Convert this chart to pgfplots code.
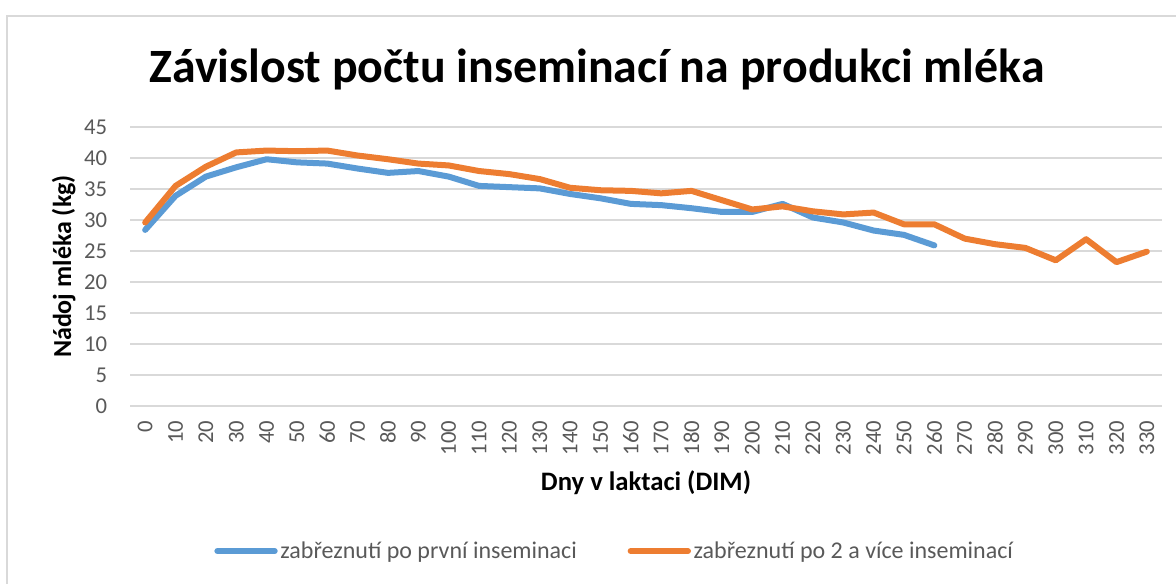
\documentclass[border=0pt]{standalone}
\usepackage{pgfplots}
\pgfplotsset{compat=1.18}
\usepackage{fontspec}
\setmainfont{Carlito}
\definecolor{xblue}{HTML}{5B9BD5}
\definecolor{xorange}{HTML}{ED7D31}
\definecolor{xgrid}{HTML}{D9D9D9}
\definecolor{xtext}{HTML}{595959}
\begin{document}
\begin{tikzpicture}[x=0.75pt,y=0.75pt]
\useasboundingbox (0,0) rectangle (1176,583);
\draw[xgrid, line width=1.5pt] (7,567) rectangle (1220,-30);
\node[anchor=base, font=\fontsize{35.9pt}{40pt}\selectfont\bfseries] at (597,{583-83}) {Závislost počtu inseminací na produkci mléka};
\node[anchor=base, font=\fontsize{20pt}{22pt}\selectfont\bfseries] at (646,{583-490}) {Dny v laktaci (DIM)};
\node[anchor=base, rotate=90, font=\fontsize{19.5pt}{22pt}\selectfont\bfseries] at (71,{583-266.5}) {Nádoj mléka (kg)};
\begin{axis}[
  at={(97.5pt,132.75pt)}, anchor=south west,
  scale only axis, width=774pt, height=209.25pt,
  xmin=-5, xmax=335, ymin=0, ymax=45,
  xtick={0,10,...,330}, ytick={0,5,...,45},
  axis line style={draw=none},
  tick style={draw=none},
  ymajorgrids, grid style={xgrid, line width=1.5pt},
  /pgf/number format/assume math mode=true,
  ticklabel style={font=\fontsize{17pt}{19pt}\selectfont, text=xtext, inner sep=0pt},
  xticklabel style={rotate=90, anchor=east},
  xticklabel shift=11pt,
  yticklabel style={anchor=east},
  yticklabel shift=17pt,
  legend columns=2,
  legend style={draw=none, fill=none, at={(0.470,-0.52)}, anchor=center,
    font=\fontsize{18pt}{20pt}\selectfont, text=xtext,
    /tikz/every even column/.append style={column sep=36pt},
    /tikz/every odd column/.append style={inner sep=1pt}},
  legend image code/.code={\draw[#1, line width=4.5pt] (0pt,0pt) -- (43pt,0pt);},
  legend cell align=left,
]
\addplot[xblue, line width=4.5pt, line join=round, line cap=round] coordinates {
(0,28.4) (10,33.9) (20,37.0) (30,38.5) (40,39.8) (50,39.3) (60,39.1) (70,38.3) (80,37.6) (90,37.9)
(100,37.0) (110,35.5) (120,35.3) (130,35.1) (140,34.2) (150,33.5) (160,32.6) (170,32.4) (180,31.9) (190,31.3)
(200,31.3) (210,32.6) (220,30.4) (230,29.6) (240,28.3) (250,27.6) (260,25.9)
};
\addlegendentry{zabřeznutí po první inseminaci}
\addplot[xorange, line width=4.5pt, line join=round, line cap=round] coordinates {
(0,29.6) (10,35.5) (20,38.6) (30,40.9) (40,41.2) (50,41.1) (60,41.2) (70,40.4) (80,39.8) (90,39.1)
(100,38.8) (110,37.9) (120,37.4) (130,36.6) (140,35.2) (150,34.8) (160,34.7) (170,34.3) (180,34.7) (190,33.2)
(200,31.7) (210,32.2) (220,31.4) (230,30.9) (240,31.2) (250,29.3) (260,29.3) (270,27.0) (280,26.1) (290,25.5)
(300,23.5) (310,26.9) (320,23.2) (330,24.9)
};
\addlegendentry{zabřeznutí po 2 a více inseminací}
\end{axis}
\end{tikzpicture}
\end{document}
